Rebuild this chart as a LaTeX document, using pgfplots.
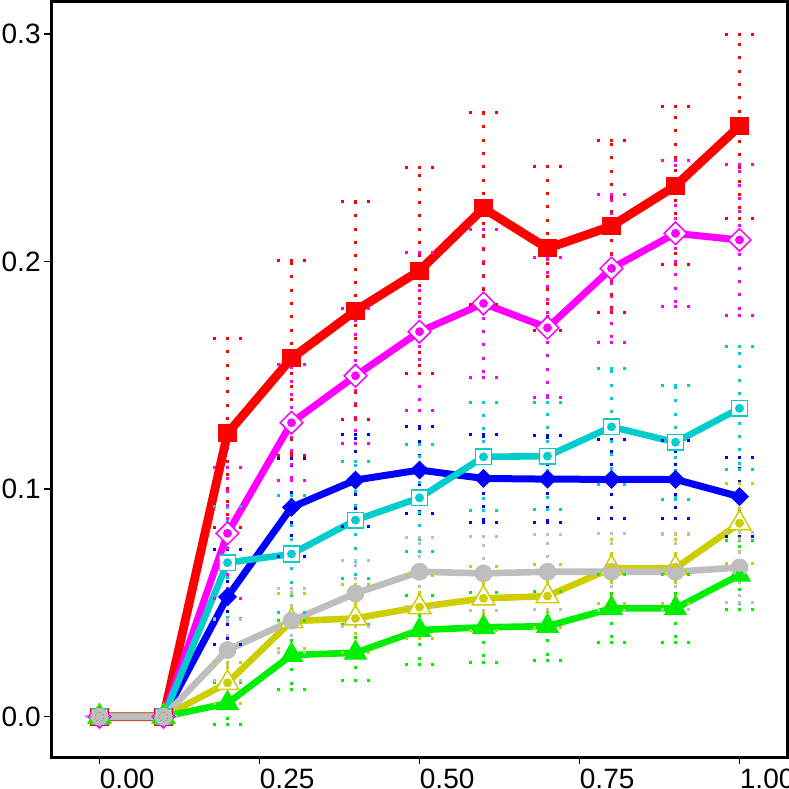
\documentclass[border=0pt]{standalone}
\usepackage{fontspec}
\setmainfont{Liberation Sans}
\usepackage{pgfplots}
\usepackage{pgfplotstable}
\pgfplotsset{compat=1.18}

\definecolor{cRed}{HTML}{FF0000}
\definecolor{cMag}{HTML}{FF00FF}
\definecolor{cCyan}{HTML}{00CDCD}
\definecolor{cBlue}{HTML}{0000FF}
\definecolor{cGray}{HTML}{BEBEBE}
\definecolor{cOlive}{HTML}{CDCD00}
\definecolor{cGreen}{HTML}{00EE00}

\pgfplotstableread{
x y e
0 0 0
0.1 0 0
0.2 0.1245 0.0415
0.3 0.1575 0.0428
0.4 0.1784 0.0478
0.5 0.1960 0.0454
0.6 0.2234 0.0423
0.7 0.2058 0.0359
0.8 0.2156 0.0378
0.9 0.2333 0.0348
1.0 0.2595 0.0405
}\tRed
\pgfplotstableread{
x y e
0 0 0
0.1 0 0
0.2 0.0806 0.0288
0.3 0.1292 0.0255
0.4 0.1498 0.0296
0.5 0.1692 0.0347
0.6 0.1816 0.0325
0.7 0.1709 0.0308
0.8 0.1970 0.0325
0.9 0.2124 0.0320
1.0 0.2095 0.0330
}\tMag
\pgfplotstableread{
x y e
0 0 0
0.1 0 0
0.2 0.0677 0.0246
0.3 0.0715 0.0256
0.4 0.0864 0.0256
0.5 0.0962 0.0235
0.6 0.1142 0.0238
0.7 0.1145 0.0235
0.8 0.1274 0.0255
0.9 0.1206 0.0250
1.0 0.1355 0.0270
}\tCyan
\pgfplotstableread{
x y e
0 0 0
0.1 0 0
0.2 0.0527 0.0208
0.3 0.0920 0.0215
0.4 0.1040 0.0202
0.5 0.1084 0.0193
0.6 0.1047 0.0195
0.7 0.1044 0.0190
0.8 0.1043 0.0173
0.9 0.1043 0.0170
1.0 0.0967 0.0174
}\tBlue
\pgfplotstableread{
x y e
0 0 0
0.1 0 0
0.2 0.0293 0.0135
0.3 0.0422 0.0142
0.4 0.0542 0.0146
0.5 0.0637 0.0151
0.6 0.0630 0.0164
0.7 0.0637 0.0164
0.8 0.0637 0.0169
0.9 0.0637 0.0165
1.0 0.0656 0.0152
}\tGray
\pgfplotstableread{
x y e
0 0 0
0.1 0 0
0.2 0.0149 0.0090
0.3 0.0420 0.0120
0.4 0.0432 0.0150
0.5 0.0482 0.0140
0.6 0.0520 0.0140
0.7 0.0530 0.0140
0.8 0.0653 0.0154
0.9 0.0653 0.0154
1.0 0.0850 0.0176
}\tOlive
\pgfplotstableread{
x y e
0 0 0
0.1 0 0
0.2 0.0059 0.0091
0.3 0.0271 0.0150
0.4 0.0281 0.0123
0.5 0.0381 0.0150
0.6 0.0393 0.0155
0.7 0.0398 0.0152
0.8 0.0476 0.0150
0.9 0.0476 0.0150
1.0 0.0623 0.0150
}\tGreen

\pgfplotsset{
  eb/.style={only marks, mark=none,
    error bars/.cd, y dir=both, y explicit,
    error bar style={line width=1.5pt, line cap=butt, dash pattern=on 1.5pt off 5.17pt},
    error mark options={rotate=90, mark size=7.42pt, line width=1.5pt, line cap=butt, dash pattern=on 1.5pt off 5.17pt}},
}

\begin{document}
\begin{tikzpicture}
\useasboundingbox (0,0) rectangle (394.5pt,394.5pt);
\clip (0,0) rectangle (394.5pt,394.5pt);
\begin{axis}[
  at={(25.5pt,16pt)}, anchor=south west,
  scale only axis, width=368pt, height=378pt,
  xmin=-0.0758, xmax=1.0742, ymin=-0.0177, ymax=0.3145,
  axis line style={line width=1.5pt},
  tick style={line width=0.75pt, black},
  tick align=outside, major tick length=3.5pt,
  xtick={0,0.25,0.5,0.75,1}, ytick={0,0.1,0.2,0.3},
  xticklabels={0.00,0.25,0.50,0.75,1.00},
  yticklabels={0.0,0.1,0.2,0.3},
  ticklabel style={font=\fontsize{14}{16}\selectfont, text=black},
  yticklabel style={inner sep=1.5pt},
  xticklabel style={anchor=north west, inner xsep=0pt, inner ysep=2.5pt},
  xtick pos=bottom, ytick pos=left,
  clip=false,
]
% lines and markers
\addplot[color=cRed, line width=4.4pt, mark=square*, mark size=4.3pt, mark options={solid, line width=0.5pt}] table[x=x,y=y]{\tRed};
\addplot[color=cMag, line width=3.5pt, mark=square*, mark size=4pt, mark options={rotate=45, solid, line width=0.75pt, fill=white}] table[x=x,y=y]{\tMag};
\addplot[color=cBlue, line width=3.5pt, mark=square*, mark size=3.1pt, mark options={rotate=45, solid, line width=0.5pt}] table[x=x,y=y]{\tBlue};
\addplot[color=cCyan, line width=3.3pt, mark=square*, mark size=3.9pt, mark options={solid, line width=0.75pt, fill=white}] table[x=x,y=y]{\tCyan};
\addplot[color=cOlive, line width=3.3pt, mark=triangle*, mark size=6.5pt, mark options={solid, line width=0.75pt, fill=white}] table[x=x,y=y]{\tOlive};
\addplot[color=cGreen, line width=3.3pt, mark=triangle*, mark size=6.3pt, mark options={solid, line width=0.5pt}] table[x=x,y=y]{\tGreen};
\addplot[color=cGray, line width=3.3pt, mark=*, mark size=4.2pt, mark options={solid, line width=0.5pt}] table[x=x,y=y]{\tGray};
% error bars on top
\addplot[color=cBlue, eb] table[x=x,y=y,y error=e]{\tBlue};
\addplot[color=cCyan, eb] table[x=x,y=y,y error=e]{\tCyan};
\addplot[color=cMag, eb] table[x=x,y=y,y error=e]{\tMag};
\addplot[color=cRed, eb] table[x=x,y=y,y error=e]{\tRed};
\addplot[color=cGreen, eb] table[x=x,y=y,y error=e]{\tGreen};
\addplot[color=cOlive, eb] table[x=x,y=y,y error=e]{\tOlive};
\addplot[color=cGray, eb] table[x=x,y=y,y error=e]{\tGray};
\end{axis}
\end{tikzpicture}
\end{document}
